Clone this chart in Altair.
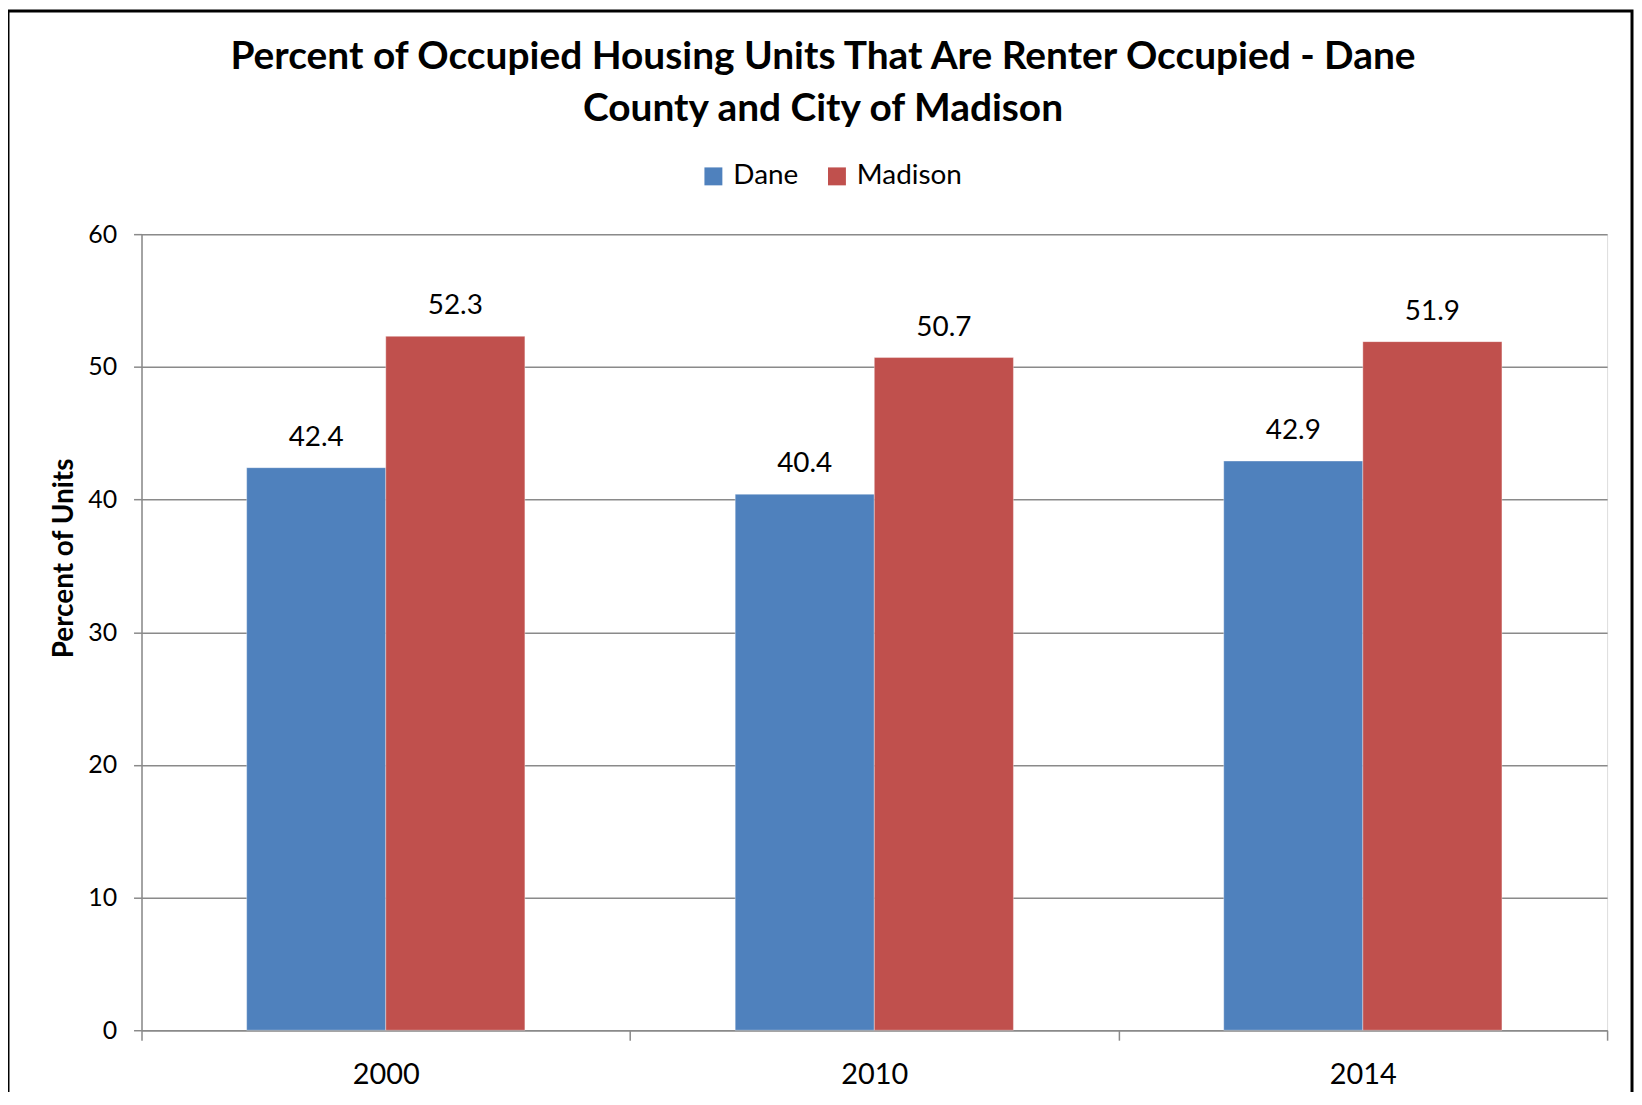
import altair as alt
import pandas as pd

years = ["2000", "2010", "2014"]
series = ["Dane", "Madison"]
dane = [42.4, 40.4, 42.9]
madison = [52.3, 50.7, 51.9]
colors = ["#4F81BD", "#C0504D"]
title_lines = ["Percent of Occupied Housing Units That Are Renter Occupied - Dane",
               "County and City of Madison"]

rows = []
for i, y in enumerate(years):
    rows.append({"Year": y, "Series": "Dane", "Value": dane[i]})
    rows.append({"Year": y, "Series": "Madison", "Value": madison[i]})
df = pd.DataFrame(rows)

FONT = "Lato"
GRID = "#8a8a8a"

x_enc = alt.X(
    "Year:N",
    title=None,
    scale=alt.Scale(paddingInner=0, paddingOuter=0),
    axis=alt.Axis(
        labelAngle=0, labelFontSize=29, labelFont=FONT, labelColor="black",
        labelPadding=20, tickBand="extent", tickSize=10, tickColor=GRID,
        tickWidth=1.5, domain=True, domainColor=GRID, domainWidth=1.5,
        grid=False,
    ),
)
xoff = alt.XOffset(
    "Series:N",
    scale=alt.Scale(domain=series, paddingInner=0, paddingOuter=0.756),
)
y_enc = alt.Y(
    "Value:Q",
    title="Percent of Units",
    scale=alt.Scale(domain=[0, 60], nice=False),
    axis=alt.Axis(
        values=[0, 10, 20, 30, 40, 50, 60],
        labelFontSize=25, labelFont=FONT, labelColor="black", labelPadding=17,
        tickSize=8, tickColor=GRID, tickWidth=1.5,
        domain=True, domainColor=GRID, domainWidth=1.5,
        grid=True, gridColor=GRID, gridWidth=1.5,
        titleFont=FONT, titleFontSize=28, titleFontWeight="bold", titleColor="black",
        titleAngle=270, titleAlign="center", titleBaseline="middle",
        titleX=-77, titleY=325,
    ),
)

base = alt.Chart(df).encode(x=x_enc, xOffset=xoff)

bars = base.mark_bar(stroke="white", strokeWidth=0.6, strokeOpacity=0.6).encode(
    y=y_enc,
    color=alt.Color(
        "Series:N",
        scale=alt.Scale(domain=series, range=colors),
        legend=alt.Legend(
            title=None, orient="none", legendX=560, legendY=-72,
            direction="horizontal", symbolType="square", symbolSize=324,
            symbolStrokeWidth=0, labelFont=FONT, labelFontSize=28,
            labelColor="black", labelOffset=6, columnPadding=24,
        ),
    ),
)

labels = base.mark_text(
    baseline="middle", dy=-30, font=FONT, fontSize=28, color="black"
).encode(
    y=alt.Y("Value:Q"),
    text=alt.Text("Value:Q", format=".1f"),
)

one = pd.DataFrame({"a": [0]})
frame = alt.Chart(one).mark_rect(
    filled=False, stroke="black", strokeWidth=3
).encode(
    x=alt.value(-134), x2=alt.value(1496), y=alt.value(-224), y2=alt.value(1000)
)

title1 = alt.Chart(one).mark_text(
    font=FONT, fontSize=39, fontWeight="bold", color="black",
    align="center", baseline="middle",
).encode(x=alt.value(684), y=alt.value(-178), text=alt.value(title_lines[0]))
title2 = alt.Chart(one).mark_text(
    font=FONT, fontSize=39, fontWeight="bold", color="black",
    align="center", baseline="middle",
).encode(x=alt.value(684), y=alt.value(-126), text=alt.value(title_lines[1]))

chart = alt.layer(bars, labels, frame, title1, title2).properties(
    width=1471,
    height=799,
    padding={"left": 134, "top": 225, "right": 27, "bottom": 60},
    autosize=alt.AutoSizeParams(type="none"),
).configure_view(stroke=None).configure(background="white")

chart.save("out.html", embed_options={"renderer": "svg", "actions": False})
